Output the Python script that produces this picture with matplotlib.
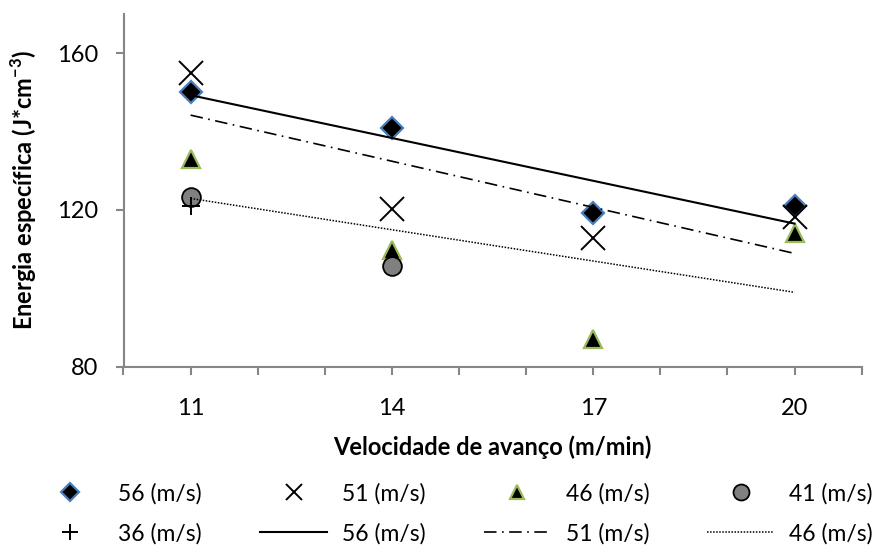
import numpy as np
import matplotlib
matplotlib.use("Agg")
import matplotlib.pyplot as plt

plt.rcParams['font.family'] = ['Lato', 'DejaVu Sans']
plt.rcParams['mathtext.fontset'] = 'custom'
plt.rcParams['mathtext.rm'] = 'Lato'
plt.rcParams['mathtext.bf'] = 'Lato:bold'

# ---- data ----
vel = [11, 14, 17, 20]
e56 = [150.2, 141.0, 119.3, 121.0]
e51 = [154.9, 120.2, 112.9, 118.1]
e46 = [133.0, 109.8, 86.9, 114.0]
vel41 = [11, 14]
e41 = [123.4, 105.7]
vel36 = [11]
e36 = [121.1]

x_ticks = [11, 14, 17, 20]
y_ticks = [80, 120, 160]
series_labels = ['56 (m/s)', '51 (m/s)', '46 (m/s)', '41 (m/s)', '36 (m/s)']
trend_labels = ['56 (m/s)', '51 (m/s)', '46 (m/s)']
xlabel = 'Velocidade de avanço (m/min)'
ylabel = r'Energia específica (J*cm$^{\mathbf{-3}}$)'

W, H = 882, 546
fig = plt.figure(figsize=(W / 100, H / 100), dpi=100)
ax = fig.add_axes([123.5 / W, 1 - 366.5 / H, (861.7 - 123.5) / W, (366.5 - 14) / H])

FS = 17
LFS = 16.5
axis_col = '#868686'

h56, = ax.plot(vel, e56, linestyle='none', marker='D', ms=11, mfc='black',
               mec='#4A7EBB', mew=1.6, zorder=3, clip_on=False)
h51, = ax.plot(vel, e51, linestyle='none', marker='x', ms=17, mec='black',
               mew=1.4, zorder=3, clip_on=False)
h46, = ax.plot(vel, e46, linestyle='none', marker='^', ms=12.5, mfc='black',
               mec='#9BBB59', mew=1.6, zorder=3, clip_on=False)
h41, = ax.plot(vel41, e41, linestyle='none', marker='o', ms=13.5, mfc='#808080',
               mec='black', mew=1.3, zorder=3, clip_on=False)
h36, = ax.plot(vel36, e36, linestyle='none', marker='+', ms=13, mec='black',
               mew=1.4, zorder=3, clip_on=False)

xs = np.array([vel[0], vel[-1]], dtype=float)
styles = ['-', (0, (7.5, 3.3, 1.0, 3.3)), (0, (1.0, 1.0))]
widths = [1.5, 1.2, 1.1]
trend_handles = []
for ys, ls, lw in zip([e56, e51, e46], styles, widths):
    p = np.polyfit(vel, ys, 1)
    ln, = ax.plot(xs, np.polyval(p, xs), color='black', linestyle=ls, lw=lw, zorder=4)
    trend_handles.append(ln)

ax.set_xlim(10, 21)
ax.set_ylim(80, 170)
ax.set_xticks(x_ticks)
ax.set_xticklabels([str(v) for v in x_ticks])
ax.set_xticks(np.arange(10, 22, 1), minor=True)
ax.set_yticks(y_ticks)
ax.set_yticklabels([str(v) for v in y_ticks])

for s in ['top', 'right']:
    ax.spines[s].set_visible(False)
for s in ['left', 'bottom']:
    ax.spines[s].set_color(axis_col)
    ax.spines[s].set_linewidth(1.5)

ax.tick_params(axis='both', which='both', direction='out', length=6, width=1.5,
               color=axis_col, labelsize=FS, labelcolor='black')
ax.tick_params(axis='x', which='major', pad=17)
ax.tick_params(axis='y', which='major', pad=12.5)

ax.set_xlabel(xlabel, fontsize=FS, fontweight='bold')
ax.xaxis.set_label_coords(0.5, -(447 - 366.5) / (366.5 - 14))
ax.xaxis.label.set_verticalalignment('center')
ax.set_ylabel(ylabel, fontsize=FS, fontweight='bold')
ax.yaxis.set_label_coords(-(123.5 - 24) / (861.7 - 123.5), 0.5)
ax.yaxis.label.set_verticalalignment('center')

handles = [h56, h51, h46, h41, h36] + trend_handles
labels = series_labels + trend_labels
order = [0, 4, 1, 5, 2, 6, 3, 7]
em = LFS * 100 / 72
leg = fig.legend([handles[i] for i in order], [labels[i] for i in order], ncol=4,
                 loc='upper left', bbox_to_anchor=(36.5 / W, 1 - 483 / H),
                 frameon=False, fontsize=LFS, handlelength=67 / em,
                 handletextpad=15 / em, columnspacing=58 / em, borderpad=0,
                 borderaxespad=0, labelspacing=0.8)

# legend markers are drawn a bit smaller than in the plot
leg_sizes = {0: 9.5, 2: 11.5, 4: 10.5, 6: 11.5, 1: 11}
leg_handles = leg.legend_handles
for i, sz in leg_sizes.items():
    leg_handles[i].set_markersize(sz)

fig.savefig('out.png', dpi=100)
